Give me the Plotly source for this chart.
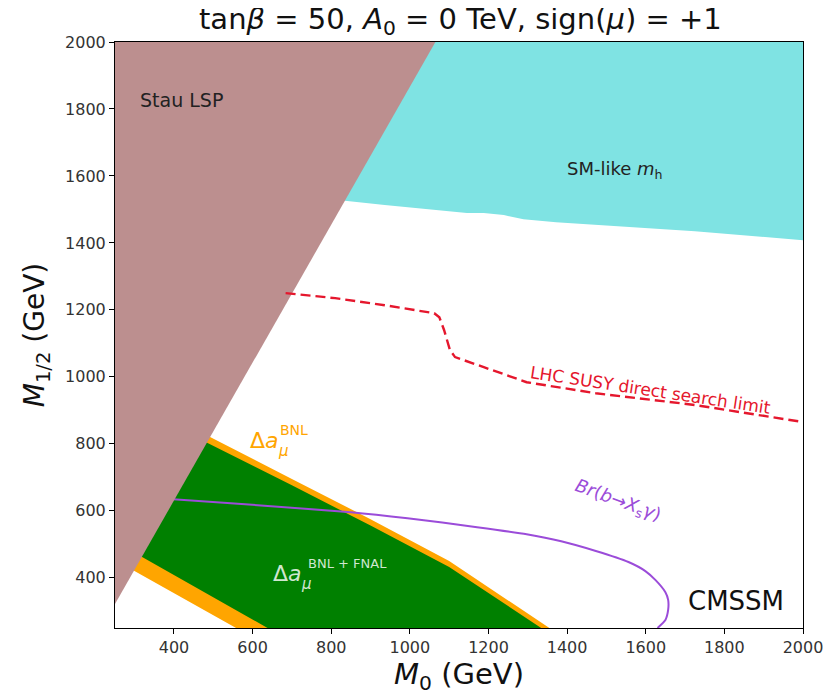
import plotly.graph_objects as go

# ---- data ----
stau_x = [250, 1065, 250]
stau_y = [322, 2000, 2000]

cyan_x = [760, 817, 936, 1145, 1188, 1239, 1289, 1372, 1725, 2000]
cyan_y = [1540, 1528, 1513, 1489, 1489, 1483, 1471, 1462, 1435, 1408]

orange_up_x = [250, 472, 700, 900, 1100, 1355]
orange_up_y = [967, 832, 695, 575, 450, 250]
orange_lo_x = [250, 295, 558]
orange_lo_y = [453, 423, 250]

green_up_x = [250, 469, 700, 900, 1100, 1334]
green_up_y = [943, 812, 676, 556, 432, 250]
green_lo_x = [250, 310, 638]
green_lo_y = [508, 468, 250]

bsg_x = [330, 389, 850, 994, 1171, 1297, 1385, 1473, 1556, 1599, 1625, 1650, 1657, 1657, 1650, 1630]
bsg_y = [638, 635, 596, 578, 551, 530, 509, 480, 447, 420, 393, 357, 334, 304, 274, 250]

lhc_x = [684, 810, 936, 1062, 1075, 1087, 1102, 1115, 1188, 1297, 1473, 1725, 2000]
lhc_y = [1250, 1235, 1214, 1190, 1178, 1140, 1080, 1059, 1029, 984, 951, 916, 865]

x_ticks = [400, 600, 800, 1000, 1200, 1400, 1600, 1800, 2000]
y_ticks = [400, 600, 800, 1000, 1200, 1400, 1600, 1800, 2000]

FONT = "DejaVu Sans"

fig = go.Figure()

def poly(xs, ys, color):
    fig.add_trace(go.Scatter(x=xs, y=ys, fill="toself", fillcolor=color,
                             mode="none", hoverinfo="skip", showlegend=False))

poly(orange_up_x + orange_lo_x[::-1], orange_up_y + orange_lo_y[::-1], "#FFA500")
poly(green_up_x + green_lo_x[::-1], green_up_y + green_lo_y[::-1], "#008000")
poly(cyan_x + [2000, cyan_x[0]], cyan_y + [2000, 2000], "#7FE3E3")

fig.add_trace(go.Scatter(x=bsg_x, y=bsg_y, mode="lines",
                         line=dict(color="#9B4CD9", width=2, shape="spline", smoothing=0.5),
                         hoverinfo="skip", showlegend=False))

poly(stau_x, stau_y, "#BC8F8F")

fig.add_trace(go.Scatter(x=lhc_x, y=lhc_y, mode="lines",
                         line=dict(color="#E5172D", width=2.4, dash="10px,5px"),
                         hoverinfo="skip", showlegend=False))

BNL_C = "#FFA500"
FN_C = "rgba(255,255,255,0.82)"
ann = [
    dict(x=420, y=1826, text="Stau LSP", font=dict(size=19, color="#222")),
    dict(x=1521, y=1617, text="SM-like <i>m</i><sub>h</sub>", font=dict(size=18, color="#222")),
    dict(x=1612, y=962, text="LHC SUSY direct search limit", textangle=8.5,
         font=dict(size=17, color="#E5172D")),
    dict(x=1529, y=630, text="<i>Br</i>(<i>b</i>→<i>X</i><sub>s</sub><i>γ</i>)", textangle=20,
         font=dict(size=18, color="#9B4CD9")),
    dict(x=1830, y=330, text="CMSSM", font=dict(size=26, color="#111")),
    # Δa_mu^BNL
    dict(x=630, y=810, text="Δ<i>a</i>", font=dict(size=22, color=BNL_C)),
    dict(x=630, y=810, text="BNL", xshift=30, yshift=10, font=dict(size=14, color=BNL_C)),
    dict(x=630, y=810, text="<i>μ</i>", xshift=19, yshift=-11, font=dict(size=15, color=BNL_C)),
    # Δa_mu^BNL+FNAL
    dict(x=690, y=414, text="Δ<i>a</i>", font=dict(size=22, color=FN_C)),
    dict(x=690, y=414, text="BNL + FNAL", xshift=60, yshift=10, font=dict(size=13, color=FN_C)),
    dict(x=690, y=414, text="<i>μ</i>", xshift=19, yshift=-11, font=dict(size=15, color=FN_C)),
]
for a in ann:
    a.setdefault("showarrow", False)
    a["font"]["family"] = FONT
    fig.add_annotation(**a)

axis_common = dict(showgrid=False, zeroline=False, showline=True, linecolor="black",
                   linewidth=1, mirror=True, ticks="outside", ticklen=5, tickcolor="black",
                   tickfont=dict(family=FONT, size=16, color="#333"))

fig.update_xaxes(range=[250, 2000], tickvals=x_ticks, ticktext=[str(v) for v in x_ticks],
                 title=dict(text="<i>M</i><sub>0</sub> (GeV)", font=dict(family=FONT, size=29, color="#111"),
                            standoff=4),
                 **axis_common)
fig.update_yaxes(range=[250, 2000], tickvals=y_ticks, ticktext=[str(v) for v in y_ticks],
                 title=dict(text="<i>M</i><sub>1/2</sub> (GeV)", font=dict(family=FONT, size=28, color="#111"),
                            standoff=12),
                 **axis_common)

fig.update_layout(
    width=827, height=687,
    margin=dict(l=107, r=29, t=34, b=67),
    plot_bgcolor="white", paper_bgcolor="white",
    title=dict(text="tan<i>β</i> = 50, <i>A</i><sub>0</sub> = 0 TeV, sign(<i>μ</i>) = +1",
               x=0.547, xanchor="center", y=0.984, yanchor="middle", yref="container",
               font=dict(family=FONT, size=29, color="#111")),
    showlegend=False,
)

fig.write_html("out.html")
